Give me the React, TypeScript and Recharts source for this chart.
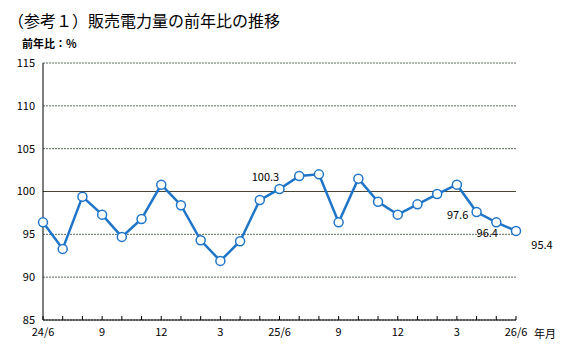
import {
  LineChart,
  Line,
  XAxis,
  YAxis,
  CartesianGrid,
  ReferenceLine,
  LabelList,
} from "recharts";

// months from 24/6 to 26/6
const months = [
  "24/6", "7", "8", "9", "10", "11", "12", "1", "2", "3", "4", "5",
  "25/6", "7", "8", "9", "10", "11", "12", "1", "2", "3", "4", "5", "26/6",
];
const yoy = [
  96.4, 93.3, 99.4, 97.3, 94.7, 96.8, 100.8, 98.4, 94.3, 91.9, 94.2, 99.0,
  100.3, 101.8, 102.0, 96.4, 101.5, 98.8, 97.3, 98.5, 99.7, 100.8, 97.6, 96.4, 95.4,
];
const tickLabels = ["24/6", "9", "12", "3", "25/6", "9", "12", "3", "26/6"];
const yTicks = [85, 90, 95, 100, 105, 110, 115];
const labelled = [12, 22, 23, 24];

const data = months.map((m, i) => ({ i, month: m, value: yoy[i] }));

const FONT = '"Noto Sans CJK JP", "Noto Sans", sans-serif';
const BLUE = "#1f75c8";

// where each value label sits relative to its point
const labelOffset: Record<number, [number, number]> = {
  12: [-14, -8],
  22: [-19, 7],
  23: [-9, 15],
  24: [26, 18],
};

const XTick = (props: any) => {
  const { x, y, payload } = props;
  const idx = payload.value as number;
  const label = idx % 3 === 0 ? tickLabels[idx / 3] : null;
  return (
    <g>
      <line x1={x} x2={x} y1={y} y2={y - 4} stroke="#000" strokeWidth={1} />
      {label && (
        <text x={x} y={y + 16} textAnchor="middle" fontSize={11} fill="#000" fontFamily={FONT}>
          {label}
        </text>
      )}
    </g>
  );
};

const ValueLabel = (props: any) => {
  const { x, y, index, value } = props;
  if (!labelled.includes(index)) return null;
  const [dx, dy] = labelOffset[index];
  return (
    <text x={x + dx} y={y + dy} textAnchor="middle" fontSize={11} fill="#000" fontFamily={FONT}>
      {value.toFixed(1)}
    </text>
  );
};

export default function App() {
  return (
    <div
      style={{
        position: "absolute",
        left: 0,
        top: 0,
        width: 562,
        height: 354,
        background: "#fff",
        fontFamily: FONT,
      }}
    >
      <div style={{ position: "absolute", left: 8, top: 8, fontSize: 16, color: "#000" }}>
        （参考１）販売電力量の前年比の推移
      </div>
      <div style={{ position: "absolute", left: 22, top: 35, fontSize: 11, fontWeight: 700 }}>
        前年比：%
      </div>
      <div style={{ position: "absolute", left: 534, top: 325, fontSize: 11 }}>年月</div>

      <LineChart
        width={562}
        height={354}
        data={data}
        margin={{ top: 63, right: 46, bottom: 0, left: 0 }}
      >
        <CartesianGrid vertical={false} stroke="#5a6e5a" strokeDasharray="2 1" />
        <XAxis
          dataKey="i"
          type="number"
          domain={[0, 24]}
          ticks={months.map((_, i) => i)}
          interval={0}
          height={34}
          tickSize={0}
          tickMargin={0}
          axisLine={{ stroke: "#000" }}
          tick={<XTick />}
        />
        <YAxis
          domain={[85, 115]}
          ticks={yTicks}
          width={43}
          tickLine={false}
          axisLine={{ stroke: "#000" }}
          tick={{ fontSize: 11, fill: "#000", fontFamily: FONT }}
        />
        <ReferenceLine y={100} stroke="#4a4535" strokeWidth={1} />
        <Line
          dataKey="value"
          stroke={BLUE}
          strokeWidth={2.5}
          dot={{ r: 4.5, fill: "#fff", stroke: BLUE, strokeWidth: 1.5 }}
          isAnimationActive={false}
        >
          <LabelList dataKey="value" content={<ValueLabel />} />
        </Line>
      </LineChart>
    </div>
  );
}
